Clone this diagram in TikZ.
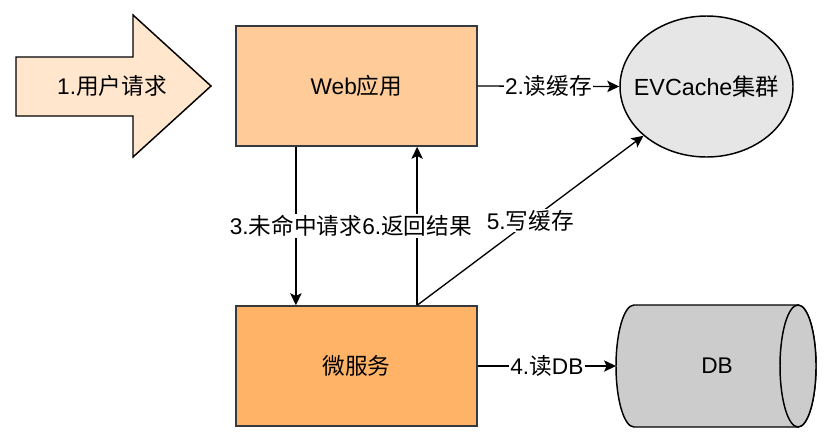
\documentclass[tikz,border=0pt]{standalone}
\usepackage{fontspec}
\setmainfont{Liberation Sans}
\newfontfamily\cjk{Noto Sans CJK SC}
\usetikzlibrary{arrows.meta,calc,shapes.geometric}

\definecolor{argfill}{HTML}{FFE6CC}
\definecolor{webfill}{HTML}{FFCC99}
\definecolor{msfill}{HTML}{FFB366}
\definecolor{cachefill}{HTML}{E6E6E6}
\definecolor{dbfill}{HTML}{CCCCCC}
\definecolor{boxline}{HTML}{36393D}

\tikzset{every picture/.style={line width=0.75pt}}
\tikzset{
  svcbox/.style={draw=boxline,line width=1.1pt,minimum width=180.75pt,minimum height=90pt,font=\fontsize{17}{20}\selectfont},
  flow/.style={-{Stealth[length=9pt,width=8.5pt,inset=2pt]},line width=1pt},
  lbl/.style={fill=white,inner sep=1pt,font=\fontsize{17}{20}\selectfont}
}

\begin{document}
\begin{tikzpicture}[x=0.75pt,y=0.75pt,yscale=-1,xscale=1]
	\useasboundingbox (0,0) rectangle (834,444);

	%Shape: Right Arrow [id:req]
	\draw [fill=argfill,line width=1.1pt] (16,57) -- (133,57) -- (133,15) -- (211,86) -- (133,157) -- (133,116) -- (16,116) -- cycle ;
	% Text Node
	\node [font=\fontsize{17}{20}\selectfont] (req) at (112,86) {1.{\cjk 用户请求}};

	%Shape: Rectangle [id:web]
	\node [svcbox,fill=webfill] (web) at (356.5,86) {Web{\cjk 应用}};
	%Shape: Rectangle [id:ms]
	\node [svcbox,fill=msfill] (ms) at (356.5,366) {\cjk 微服务};
	%Shape: Ellipse [id:cache]
	\node [ellipse,draw,fill=cachefill,line width=1.1pt,inner sep=0pt,minimum width=129.75pt,minimum height=105.75pt] (cache) at (706.5,86.5) {};
	\node [font=\fontsize{17.5}{20}\selectfont] (cachetxt) at (cache.center) {EVCache{\cjk 集群}};

	%Shape: Can [id:db]
	\draw [fill=dbfill,line width=1.1pt] (634,305) -- (798,305) arc (270:450:18 and 61) -- (634,427) arc (90:270:18 and 61) -- cycle ;
	\draw [fill=dbfill,line width=1.1pt] (798,366) ellipse (18 and 61);
	\node [font=\fontsize{17}{20}\selectfont] (db) at (717,366) {DB};
	\coordinate (dbin) at (616,366);

	%Straight Lines [id:c2]
	\draw [flow] (web.east) -- node [lbl] {2.{\cjk 读缓存}} (cache.west) ;
	%Straight Lines [id:c3]
	\draw [flow] ($(web.south west)!0.25!(web.south east)$) -- node [lbl] {3.{\cjk 未命中请求}} ($(ms.north west)!0.25!(ms.north east)$) ;
	%Straight Lines [id:c6]
	\draw [flow] ($(ms.north west)!0.75!(ms.north east)$) -- node [lbl] {6.{\cjk 返回结果}} ($(web.south west)!0.75!(web.south east)$) ;
	%Straight Lines [id:c5]
	\draw [flow] ($(ms.north west)!0.75!(ms.north east)$) -- node [lbl] {5.{\cjk 写缓存}} (cache.218) ;
	%Straight Lines [id:c4]
	\draw [flow] (ms.east) -- node [lbl] {4.{\cjk 读}DB} (dbin) ;

\end{tikzpicture}
\end{document}
